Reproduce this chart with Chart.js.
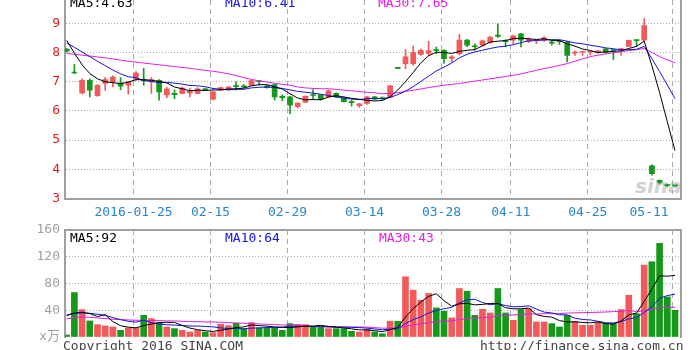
<!DOCTYPE html>
<html>
<head>
<meta charset="utf-8">
<script src="https://cdn.jsdelivr.net/npm/chart.js@4.4.0/dist/chart.umd.min.js"></script>
<style>
html, body { margin: 0; padding: 0; background: #fff; }
#wrap { position: relative; width: 699px; height: 350px; overflow: hidden;
  font-family: 'DejaVu Sans Mono', 'Noto Sans CJK SC', monospace; font-size: 13px; }
#price { position: absolute; left: 0; top: 0; }
#vol { position: absolute; left: 0; top: 220px; }
.t { position: absolute; white-space: pre; line-height: 13px; }
.logo { position: absolute; left: 635px; top: 174px; font: italic bold 20px 'DejaVu Sans', sans-serif; color: #d2d2d2; }
</style>
</head>
<body>
<div id="wrap">
  <div class="logo">sina</div>
  <canvas id="price" width="699" height="220"></canvas>
  <canvas id="vol" width="699" height="130"></canvas>

  <div class="t" style="left:70px;top:-4px;color:#000">MA5:4.63</div>
  <div class="t" style="left:225px;top:-4px;color:#1414e6">MA10:6.41</div>
  <div class="t" style="left:378px;top:-4px;color:#e020e0">MA30:7.65</div>

  <div class="t" style="left:70px;top:231px;color:#000">MA5:92</div>
  <div class="t" style="left:225px;top:231px;color:#1414e6">MA10:64</div>
  <div class="t" style="left:379px;top:231px;color:#e020e0">MA30:43</div>

  <div class="t" style="left:63px;top:339px;color:#444">Copyright 2016 SINA.COM</div>
  <div class="t" style="left:480px;top:339px;color:#444">http://finance.sina.com.cn</div>
</div>

<script>
// trading days shown, one candle each
const dates = ['2016-01-12','2016-01-13','2016-01-14','2016-01-15','2016-01-18','2016-01-19','2016-01-20','2016-01-21','2016-01-22','2016-01-25',
  '2016-01-26','2016-01-27','2016-01-28','2016-01-29','2016-02-01','2016-02-02','2016-02-03','2016-02-04','2016-02-05','2016-02-15',
  '2016-02-16','2016-02-17','2016-02-18','2016-02-19','2016-02-22','2016-02-23','2016-02-24','2016-02-25','2016-02-26','2016-02-29',
  '2016-03-01','2016-03-02','2016-03-03','2016-03-04','2016-03-07','2016-03-08','2016-03-09','2016-03-10','2016-03-11','2016-03-14',
  '2016-03-15','2016-03-16','2016-03-17','2016-03-18','2016-03-21','2016-03-22','2016-03-23','2016-03-24','2016-03-25','2016-03-28',
  '2016-03-29','2016-03-30','2016-03-31','2016-04-01','2016-04-05','2016-04-06','2016-04-07','2016-04-08','2016-04-11','2016-04-12',
  '2016-04-13','2016-04-14','2016-04-15','2016-04-18','2016-04-19','2016-04-20','2016-04-21','2016-04-22','2016-04-25','2016-04-26',
  '2016-04-27','2016-04-28','2016-04-29','2016-05-03','2016-05-04','2016-05-05','2016-05-06','2016-05-09','2016-05-10','2016-05-11'];

const openP = [8.12,7.32,6.62,7.05,6.52,6.94,6.99,6.96,6.88,7.08, 7.08,6.99,7.05,6.55,6.6,6.6,6.62,6.6,6.76,6.4,
  6.72,6.74,6.86,6.86,6.88,7.02,6.85,6.9,6.5,6.48, 6.15,6.3,6.56,6.55,6.48,6.6,6.45,6.32,6.18,6.26,
  6.48,6.45,6.48,7.49,7.62,7.62,7.94,7.97,8.1,8.08, 7.8,7.96,8.43,8.23,8.25,8.35,8.6,8.4,8.42,8.64,
  8.38,8.41,8.42,8.36,8.4,8.36,7.98,8.01,8.01,8.0, 8.13,8.1,8.1,8.21,8.43,8.42,4.12,3.62,3.45,3.44];
const highP = [8.14,7.6,7.1,7.1,6.9,7.15,7.2,7.14,7.0,7.35, 7.46,7.14,7.07,6.82,6.72,6.82,6.78,6.8,6.78,6.68,
  6.82,6.84,7.0,6.9,7.06,7.04,6.88,6.92,6.55,6.5, 6.28,6.52,6.73,6.56,6.72,6.62,6.47,6.39,6.26,6.5,
  6.5,6.48,6.88,7.49,8.1,8.22,8.12,8.38,8.19,8.1, 7.9,8.62,8.45,8.3,8.43,8.55,8.98,8.44,8.6,8.66,
  8.5,8.43,8.55,8.4,8.42,8.38,8.05,8.03,8.03,8.08, 8.14,8.1,8.15,8.43,8.43,9.16,4.15,3.64,3.5,3.45];
const lowP = [8.02,7.28,6.57,6.48,6.5,6.71,6.82,6.73,6.57,7.05, 6.88,6.6,6.37,6.45,6.42,6.58,6.48,6.58,6.7,6.38,
  6.7,6.72,6.72,6.78,6.86,6.88,6.78,6.37,6.35,5.91, 6.1,6.28,6.42,6.38,6.45,6.45,6.3,6.16,6.12,6.22,
  6.38,6.38,6.46,7.45,7.45,7.56,7.9,7.9,7.96,7.63, 7.68,7.92,8.2,8.08,8.22,8.32,8.52,8.19,8.3,8.19,
  8.34,8.3,8.38,8.25,8.28,7.68,7.9,7.9,7.92,7.97, 7.98,7.76,7.9,8.2,8.21,8.4,3.8,3.5,3.4,3.42];
const closeP = [8.05,7.3,7.05,6.71,6.88,7.07,7.16,6.85,6.99,7.3, 7.04,7.07,6.65,6.76,6.56,6.78,6.68,6.76,6.72,6.65,
  6.8,6.82,6.83,6.82,7.04,7.0,6.8,6.48,6.45,6.2, 6.27,6.5,6.53,6.4,6.69,6.48,6.32,6.28,6.24,6.48,
  6.4,6.42,6.86,7.46,7.85,8.0,8.08,8.07,8.06,7.79, 7.85,8.43,8.25,8.2,8.4,8.53,8.55,8.37,8.57,8.42,
  8.45,8.43,8.5,8.32,8.37,7.9,8.0,8.03,8.03,8.06, 8.0,8.07,8.14,8.42,8.41,8.92,3.85,3.55,3.44,3.43];

const ma5P = [8.42,7.98,7.58,7.28,7.1,7.0,6.97,6.93,6.99,7.07, 7.07,7.05,7.01,6.96,6.82,6.76,6.69,6.71,6.7,6.72,
  6.72,6.75,6.76,6.78,6.86,6.9,6.9,6.83,6.75,6.59, 6.44,6.38,6.39,6.38,6.48,6.52,6.48,6.43,6.4,6.36,
  6.34,6.36,6.48,6.72,7.0,7.32,7.65,7.89,8.01,8.0, 7.97,8.04,8.08,8.1,8.23,8.36,8.39,8.41,8.48,8.49,
  8.47,8.45,8.47,8.42,8.41,8.3,8.22,8.12,8.07,8.0, 8.02,8.04,8.06,8.14,8.21,8.39,7.55,6.63,5.63,4.64];
const ma10P = [8.33,8.18,8.02,7.86,7.7,7.55,7.4,7.27,7.17,7.14, 7.04,7.01,6.97,6.98,6.95,6.92,6.87,6.86,6.83,6.77,
  6.74,6.72,6.74,6.74,6.79,6.81,6.82,6.8,6.77,6.72, 6.67,6.64,6.61,6.57,6.53,6.48,6.43,6.41,6.39,6.42,
  6.43,6.42,6.46,6.56,6.68,6.83,7.01,7.19,7.37,7.5, 7.64,7.82,7.94,8.02,8.08,8.14,8.19,8.22,8.27,8.34,
  8.4,8.41,8.43,8.44,8.44,8.39,8.33,8.3,8.25,8.21, 8.16,8.13,8.09,8.1,8.11,8.21,7.79,7.35,6.89,6.42];
const ma30P = [7.97,7.94,7.91,7.88,7.85,7.82,7.78,7.74,7.7,7.67, 7.64,7.61,7.58,7.55,7.52,7.49,7.46,7.42,7.39,7.36,
  7.32,7.27,7.21,7.14,7.08,7.03,6.99,6.95,6.91,6.88, 6.82,6.79,6.77,6.76,6.76,6.74,6.71,6.69,6.66,6.64,
  6.62,6.59,6.6,6.62,6.67,6.71,6.75,6.8,6.84,6.88, 6.91,6.94,6.98,7.02,7.06,7.1,7.14,7.18,7.22,7.27,
  7.33,7.39,7.45,7.5,7.56,7.62,7.7,7.78,7.86,7.91, 7.95,7.99,8.03,8.07,8.1,8.14,8.0,7.86,7.75,7.65];

// volume in 万 shares
const vol = [3,66.5,41,24,18.5,16.5,15,10,13.5,13.5, 32.5,27.5,21.5,15,12.5,10,7.5,10,7.5,6.5,
  19,17,20.5,12.5,21.5,13.5,13.5,13.5,10,20, 18.5,18.5,15,15,12.5,12.5,12.5,8.5,7.5,11.5,
  7.5,5,23.5,23.5,90,70,55,65,43.5,38.5, 28.5,72.5,68.5,32.5,41.5,36,72.5,36,25,41,
  42.5,22.5,22.5,20,15,32.5,23.5,17.5,17.5,21.5, 20,20,41,62.5,35,107.5,112.5,140,60,40];
const ma5V = [32,36,37,35,30.6,33.3,23,16.8,14.7,13.7, 16.9,19.4,21.7,22,21.8,17.3,13.3,11,9.5,8.3,
  10.1,12,14.1,15.1,18.1,17,16.3,14.9,14.4,14.1, 15.1,16.1,16.4,17.4,15.9,14.7,13.5,12.2,10.7,10.5,
  9.5,8,11,14.2,29.9,42.4,52.4,60.7,64.7,54.4, 46.1,49.6,50.3,48.1,48.7,50.2,50.2,43.7,42.2,42.1,
  43.4,33.4,30.7,29.7,24.5,22.5,22.7,21.7,21.2,22.5, 20,19.3,24,33,35.7,53.2,71.7,91.5,91,92];
const ma10V = [33,35,36,35.5,34,32.5,29,26,23.5,22.2, 25.1,21.2,19.3,18.4,17.8,17.1,16.4,16.4,15.8,15.1,
  13.7,12.7,12.6,12.3,13.2,13.6,14.2,14.5,14.8,16.1, 16.1,16.2,15.7,15.9,15,14.9,14.8,14.3,14.1,13.2,
  12.1,10.8,11.6,12.5,20.2,26,30.2,35.9,39.5,42.2, 44.3,51,55.5,56.4,51.6,48.2,49.9,47,45.2,45.4,
  46.8,41.8,37.2,36,33.3,33,28.1,26.2,25.5,23.5, 21.3,21,22.9,27.1,29.1,36.6,45.5,57.8,62,63.9];
const ma30V = [27,29,30,29.5,28.5,27.5,26.5,26,25.5,25, 25,24.5,24.5,24,24,23.5,23,23,22.5,22.5,
  22,21.5,21,20.5,20,19.5,19,18.5,18,17.8, 18.3,16.7,15.8,15.5,15.3,15.2,15.1,15.1,14.9,14.8,
  14,13.2,13.3,13.6,16.1,18.1,19.7,21.6,22.8,23.8, 24.1,26,27.6,28.3,28.9,29.7,31.6,32.4,32.9,33.6,
  34.4,34.5,34.8,34.9,35,35.7,36.1,36.4,36.7,37, 37.4,37.9,38.5,39.8,38,39.2,41.2,43.7,44.2,44.3];

const tickDates = ['2016-01-25','2016-02-15','2016-02-29','2016-03-14','2016-03-28','2016-04-11','2016-04-25','2016-05-11'];
const tickLabels = ['2016-01-25','02-15','02-29','03-14','03-28','04-11','04-25','05-11      '];
const priceTicks = [3,4,5,6,7,8,9];
const volTicks = [0,40,80,120,160];

const RED = '#f25a5a', GREEN = '#16991a';
const GRID = '#ababab', FRAME = '#a0a0a0';
const FONT = { family: "'DejaVu Sans Mono', 'Noto Sans CJK SC', monospace", size: 13 };
const X_MIN = -0.22, X_MAX = 79.78, TICK_SHIFT = -0.32;

const tickIdx = tickDates.map(d => dates.indexOf(d));
const upDown = closeP.map((c, i) => c >= openP[i] ? RED : GREEN);
const pts = arr => arr.map((v, i) => ({ x: i, y: v }));

// fixed box size, and no extra room reserved for overhanging tick labels
function fixBox(s, size) {
  if (s.isHorizontal()) s.height = size; else s.width = size;
  s.paddingLeft = s.paddingRight = s.paddingTop = s.paddingBottom = 0;
}

function dateAxis(withLabels) {
  return {
    type: 'linear', min: X_MIN, max: X_MAX, offset: false,
    afterBuildTicks: s => { s.ticks = tickIdx.map(i => ({ value: i + TICK_SHIFT })); },
    afterFit: s => fixBox(s, withLabels ? 21.5 : 13),
    grid: { color: GRID, lineWidth: 1, drawTicks: false, offset: false },
    border: { display: withLabels, color: FRAME, width: 2, dash: [5, 4] },
    ticks: { display: withLabels, autoSkip: false, maxRotation: 0, padding: 6,
      color: '#2886cc', font: FONT, callback: (v, i) => tickLabels[i] }
  };
}

function frameAxis(position, size) {
  return {
    position, display: true, min: 0, max: 1, offset: false,
    afterFit: s => fixBox(s, size),
    grid: { display: false, drawTicks: false },
    border: { display: true, color: FRAME, width: 2 },
    ticks: { display: false }
  };
}

function maLine(data, color) {
  return { type: 'line', data: pts(data), borderColor: color, borderWidth: 1,
    pointRadius: 0, tension: 0, order: 0, yAxisID: 'y' };
}

const common = {
  responsive: false, animation: false, events: [],
  layout: { autoPadding: false, padding: 0 },
  plugins: { legend: { display: false }, tooltip: { enabled: false } }
};

new Chart(document.getElementById('price'), {
  type: 'bar',
  data: { datasets: [
    maLine(ma5P, '#000000'),
    maLine(ma10P, '#1414e6'),
    maLine(ma30P, '#e020e0'),
    { data: openP.map((o, i) => ({ x: i, y: [o, closeP[i]] })), backgroundColor: upDown,
      barThickness: 5, minBarLength: 1, grouped: false, order: 1, yAxisID: 'y' },
    { data: lowP.map((l, i) => ({ x: i, y: [l, highP[i]] })), backgroundColor: upDown,
      barThickness: 1, grouped: false, order: 2, yAxisID: 'y' }
  ]},
  options: Object.assign({}, common, {
    scales: {
      x: dateAxis(true),
      y: {
        position: 'left', min: 3, max: 9.8,
        afterBuildTicks: s => { s.ticks = priceTicks.map(v => ({ value: v })); },
        afterFit: s => fixBox(s, 65),
        grid: { color: GRID, lineWidth: 1, drawTicks: false },
        border: { color: FRAME, width: 2, dash: [1, 2] },
        ticks: { color: '#e3191e', font: FONT, padding: 5 }
      },
      yR: frameAxis('right', 18)
    }
  })
});

new Chart(document.getElementById('vol'), {
  type: 'bar',
  data: { datasets: [
    maLine(ma5V, '#000000'),
    maLine(ma10V, '#1414e6'),
    maLine(ma30V, '#e020e0'),
    { data: pts(vol), backgroundColor: upDown, barThickness: 6, grouped: false, order: 1, yAxisID: 'y' }
  ]},
  options: Object.assign({}, common, {
    scales: {
      x: dateAxis(false),
      xTop: frameAxis('top', 10),
      y: {
        position: 'left', min: 0, max: 160,
        afterBuildTicks: s => { s.ticks = volTicks.map(v => ({ value: v })); },
        afterFit: s => fixBox(s, 65),
        grid: { color: c => (c.tick && c.tick.value === 0) ? 'rgba(0,0,0,0)' : GRID, lineWidth: 1, drawTicks: false },
        border: { color: FRAME, width: 2, dash: [1, 2] },
        ticks: { color: '#a0a0a0', font: FONT, padding: 5,
          callback: v => v === 0 ? 'x万' : String(v) }
      },
      yR: frameAxis('right', 18)
    }
  })
});
</script>
</body>
</html>
